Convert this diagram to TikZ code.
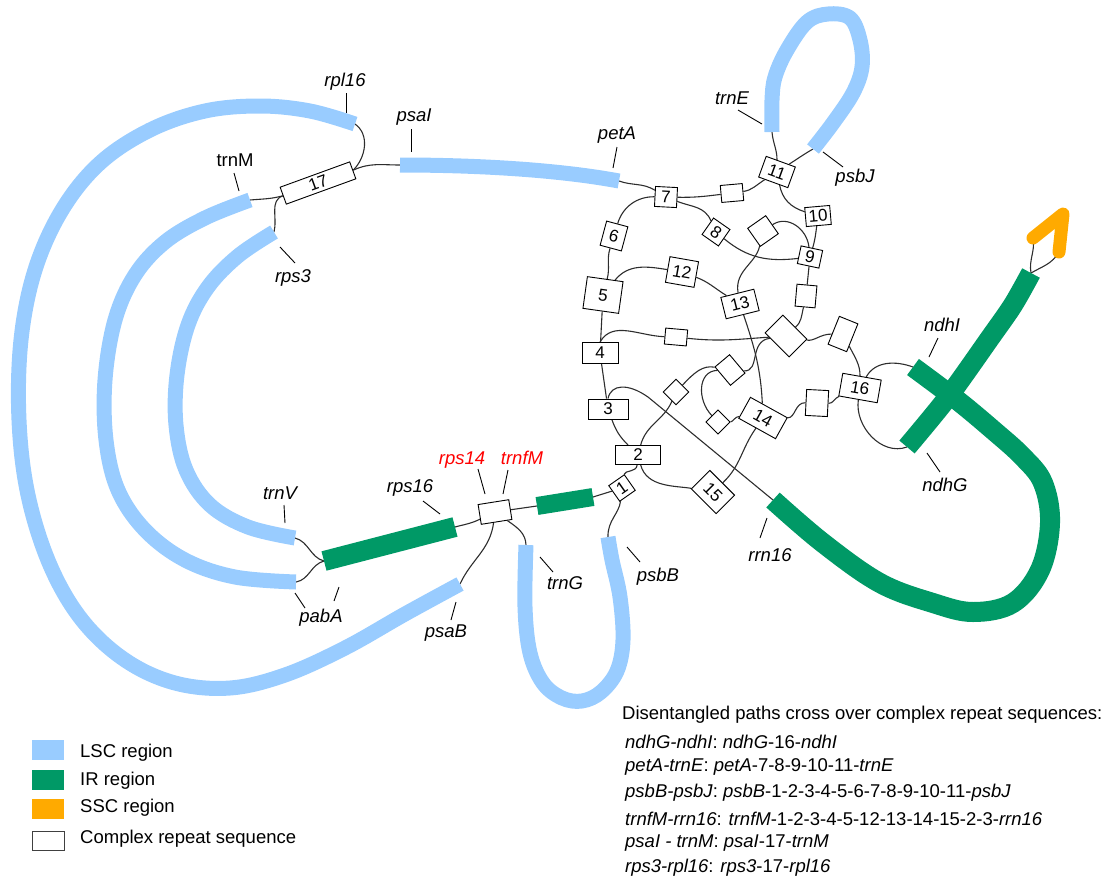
\documentclass[tikz,border=0pt]{standalone}
\usepackage{fontspec}
\setmainfont{Liberation Sans}
\definecolor{lsc}{RGB}{153,204,255}
\definecolor{irg}{RGB}{0,153,102}
\definecolor{ssc}{RGB}{255,170,0}
\definecolor{wire}{RGB}{45,45,45}
\pgfdeclarelayer{bg}
\pgfsetlayers{bg,main}
\tikzset{
  lscbar/.style={draw=lsc, line width=15pt},
  irbar/.style={draw=irg, line width=20pt},
  sscbar/.style={draw=ssc, line width=13pt, line cap=round, line join=round},
  con/.style={draw=wire, line width=1.1pt},
  lead/.style={draw=black, line width=0.9pt},
  rep/.style={draw=black, line width=0.9pt, fill=white, inner sep=0pt,
    font=\fontsize{17}{17}\selectfont},
  gene/.style={font=\fontsize{18.5}{20}\selectfont\itshape, inner sep=0pt},
  plain/.style={font=\fontsize{18.5}{20}\selectfont, inner sep=0pt},
  legbox/.style={minimum width=32pt, minimum height=20pt, inner sep=0pt},
}
\begin{document}
\begin{tikzpicture}[x=1pt,y=-1pt]
\useasboundingbox (0,0) rectangle (1112,879);

% ---------- ends of the region bars ----------
\coordinate (rpl16e) at (355,124);
\coordinate (trnMe) at (250,200);
\coordinate (rps3e) at (274,232);
\coordinate (psaIs) at (400,165);
\coordinate (petAe) at (619,181);
\coordinate (trnEe) at (772,132);
\coordinate (psbJe) at (813,149);
\coordinate (trnVe) at (295,538);
\coordinate (pabAe) at (296,582);
\coordinate (psaBe) at (460,584);
\coordinate (rps16l) at (324,561);
\coordinate (rps16r) at (455,527);
\coordinate (irSl) at (537,506);
\coordinate (irSr) at (593,497);
\coordinate (trnGe) at (526,545);
\coordinate (psbBe) at (608,537);
\coordinate (rrnS) at (773,500);
\coordinate (ndhIe) at (913,367);
\coordinate (ndhGe) at (907,447);
\coordinate (irTop) at (1031,273);
\coordinate (sscL) at (1033,238);
\coordinate (sscR) at (1059,252);

% ---------- complex repeat sequences ----------
\node[rep, minimum width=74pt, minimum height=18pt, rotate=20] (b17) at (318,183) {17};
\node[rep, minimum width=31pt, minimum height=22pt, rotate=-20] (b11) at (777,172) {11};
\node[rep, minimum width=22pt, minimum height=17pt, rotate=5] (bA) at (732,193) {};
\node[rep, minimum width=22pt, minimum height=20pt, rotate=-3] (b7) at (666,197) {7};
\node[rep, minimum width=25pt, minimum height=19pt, rotate=5] (b10) at (818,216) {10};
\node[rep, minimum width=20pt, minimum height=20pt, rotate=-35] (b8) at (716,232) {8};
\node[rep, minimum width=22pt, minimum height=25pt, rotate=-15] (b6) at (614,236) {6};
\node[rep, minimum width=22pt, minimum height=22pt, rotate=35] (bB) at (763,231) {};
\node[rep, minimum width=22pt, minimum height=18pt, rotate=-12] (b9) at (810,257) {9};
\node[rep, minimum width=29pt, minimum height=26pt, rotate=-10] (b12) at (682,272) {12};
\node[rep, minimum width=36pt, minimum height=32pt, rotate=-8] (b5) at (603,295) {5};
\node[rep, minimum width=34pt, minimum height=22pt, rotate=14] (b13) at (740,304) {13};
\node[rep, minimum width=20pt, minimum height=22pt, rotate=-5] (bC) at (806,296) {};
\node[rep, minimum width=22pt, minimum height=16pt, rotate=-5] (bD) at (676,337) {};
\node[rep, minimum width=34pt, minimum height=25pt, rotate=-45] (bE) at (786,336) {};
\node[rep, minimum width=20pt, minimum height=30pt, rotate=-22] (bF) at (843,334) {};
\node[rep, minimum width=36pt, minimum height=21pt] (b4) at (600,353) {4};
\node[rep, minimum width=39pt, minimum height=23pt, rotate=-10] (b16) at (860,388) {16};
\node[rep, minimum width=24pt, minimum height=19pt, rotate=-50] (bG) at (730,370) {};
\node[rep, minimum width=18pt, minimum height=18pt, rotate=45] (bH) at (676,392) {};
\node[rep, minimum width=40pt, minimum height=20pt] (b3) at (608,409) {3};
\node[rep, minimum width=17pt, minimum height=17pt, rotate=45] (bI) at (718,422) {};
\node[rep, minimum width=42pt, minimum height=24pt, rotate=-29] (b14) at (763,418) {14};
\node[rep, minimum width=22pt, minimum height=26pt, rotate=-3] (bJ) at (817,403) {};
\node[rep, minimum width=45pt, minimum height=19pt] (b2) at (638,455) {2};
\node[rep, minimum width=19pt, minimum height=19pt, rotate=35] (b1) at (622,488) {1};
\node[rep, minimum width=35pt, minimum height=26pt, rotate=-45] (b15) at (713,492) {15};
\node[rep, minimum width=31pt, minimum height=20pt, rotate=9] (bK) at (495,512) {};

% ---------- thin connections ----------
\begin{pgfonlayer}{bg}
\draw[con] (trnMe) to[out=5,in=195] (b17.west);
\draw[con] (rps3e) to[out=75,in=200] (b17.west);
\draw[con] (b17.east) to[out=45,in=-35] (rpl16e);
\draw[con] (b17.east) to[out=25,in=180] (psaIs);
\draw[con] (petAe) to[out=-20,in=150] (b7);
\draw[con] (b7) to[out=180,in=80] (b6);
\draw[con] (b7) to[out=0,in=185] (bA);
\draw[con] (bA) to[out=5,in=225] (b11);
\draw[con] (b7) to[out=-20,in=130] (b8);
\draw[con] (b11) to[out=-70,in=160] (b10);
\draw[con] (b10) to[out=-100,in=80] (b9);
\draw[con] (b8) to[out=-30,in=190] (b9);
\draw[con] (bB) to[out=20,in=100] (b9);
\draw[con] (bB) to[out=-115,in=95] (b13);
\draw[con] (b9) -- (bC);
\draw[con] (bC) to[out=-100,in=70] (bE);
\draw[con] (b12) to[out=-15,in=140] (b13);
\draw[con] (b5) to[out=55,in=175] (b12);
\draw[con] (b5) to[out=80,in=-100] (b6);
\draw[con] (b5) -- (b4);
\draw[con] (b4.north) to[out=60,in=180] (bD);
\draw[con] (bD) to[out=-5,in=200] (bE);
\draw[con] (b13) to[out=-75,in=100] (b14);
\draw[con] (bE) to[out=210,in=15] (bG);
\draw[con] (bG) to[out=190,in=30] (bH);
\draw[con] (bH) to[out=-130,in=75] (b2);
\draw[con] (bG) to[out=200,in=120] (bI);
\draw[con] (bI) to[out=-30,in=200] (b14);
\draw[con] (b14) to[out=20,in=180] (bJ);
\draw[con] (bJ) to[out=0,in=210] (b16);
\draw[con] (b14) to[out=-115,in=60] (b15);
\draw[con] (b15) to[out=190,in=-75] (b2);
\draw[con] (b2) to[out=-95,in=60] (b1);
\draw[con] (b3) to[out=-70,in=135] (b2);
\draw[con] (b3) -- (b4);
\draw[con] (b3.north) .. controls (611,384) and (628,383) .. (648,397) -- (rrnS);
\draw[con] (irSr) -- (b1);
\draw[con] (b1) to[out=-110,in=92] (psbBe);
\draw[con] (bK) -- (irSl);
\draw[con] (rps16r) to[out=15,in=200] (bK);
\draw[con] (psaBe) to[out=65,in=-100] (bK);
\draw[con] (bK) to[out=-40,in=92] (trnGe);
\draw[con] (trnVe) to[out=-15,in=165] (rps16l);
\draw[con] (pabAe) to[out=10,in=195] (rps16l);
\draw[con] (b11) to[out=100,in=-85] (trnEe);
\draw[con] (b11) to[out=45,in=210] (psbJe);
\draw[con] (bE) to[out=15,in=190] (bF);
\draw[con] (bF) to[out=-50,in=95] (b16);
\draw[con] (b16) to[out=65,in=160] (ndhIe);
\draw[con] (b16) to[out=-95,in=200] (ndhGe);
\draw[con] (irTop) to[out=100,in=-80] (sscL);
\draw[con] (sscR) to[out=-120,in=30] (irTop);
\end{pgfonlayer}

% ---------- LSC bars ----------
\draw[lscbar] plot[smooth, tension=0.6] coordinates {(460,584) (405,614) (345,648) (285,675) (230,688) (175,683) (125,660) (82,620) (50,565) (28,495) (19,420) (21,340) (35,270) (62,210) (100,163) (150,130) (205,111) (260,106) (310,111) (355,124)};
\draw[lscbar] plot[smooth, tension=0.6] coordinates {(250,200) (205,218) (165,242) (135,275) (115,320) (105,380) (106,440) (118,490) (145,530) (185,560) (235,577) (296,582)};
\draw[lscbar] plot[smooth, tension=0.6] coordinates {(274,232) (238,256) (208,287) (188,325) (177,375) (176,425) (186,470) (210,505) (248,527) (295,538)};
\draw[lscbar] (psaIs) .. controls (480,165) and (560,170) .. (petAe);
\draw[lscbar] plot[smooth, tension=0.6] coordinates {(772,132) (772,100) (775,77) (787,50) (807,22) (828,14) (850,18) (860,40) (862,67) (853,93) (833,123) (813,149)};
\draw[lscbar] plot[smooth, tension=0.6] coordinates {(526,545) (525,607) (530,653) (543,683) (562,698) (582,701) (601,692) (617,671) (623,640) (620,597) (612,560) (608,537)};

% ---------- IR bars ----------
\draw[irbar] (rps16l) -- (rps16r);
\draw[irbar, line width=18pt] (irSl) -- (irSr);
\draw[irbar] plot[smooth, tension=0.6] coordinates {(773,500) (823,543) (880,583) (933,603) (973,612) (1013,603) (1040,570) (1050,523) (1043,483) (1023,457) (993,430) (957,400) (913,367)};
\draw[irbar] plot[smooth, tension=0.5] coordinates {(907,447) (948,397) (990,338) (1013,305) (1031,273)};

% ---------- SSC ----------
\draw[sscbar] (sscL) -- (1063,214) -- (sscR);

% ---------- gene labels ----------
\node[gene] (lrpl16) at (345,82) {rpl16};
\draw[lead] (346,93) -- (346,113);
\node[gene] (lpsaI) at (414,117) {psaI};
\draw[lead] (411,129) -- (411,152);
\node[gene] (lpetA) at (617,135) {petA};
\draw[lead] (617,147) -- (613,168);
\node[plain] (ltrnM) at (235,160) {trnM};
\draw[lead] (234,173) -- (239,191);
\node[gene] (lrps3) at (293,278) {rps3};
\draw[lead] (280,247) -- (295,263);
\node[gene] (ltrnE) at (732,98) {trnE};
\draw[lead] (738,110) -- (762,124);
\node[gene] (lpsbJ) at (855,178) {psbJ};
\draw[lead] (823,152) -- (843,167);
\node[gene] (ltrnV) at (280,493) {trnV};
\draw[lead] (284,505) -- (285,523);
\node[gene] (lrps16) at (410,488) {rps16};
\draw[lead] (423,501) -- (440,514);
\node[gene, text=red] (lrps14) at (462,460) {rps14};
\draw[lead] (478,469) -- (485,494);
\node[gene, text=red] (ltrnfM) at (522,458) {trnfM};
\draw[lead] (508,470) -- (503,494);
\node[gene] (lpabA) at (321,618) {pabA};
\draw[lead] (295,593) -- (305,608);
\draw[lead] (339,587) -- (334,601);
\node[gene] (lpsaB) at (446,633) {psaB};
\draw[lead] (456,602) -- (451,620);
\node[gene] (ltrnG) at (565,583) {trnG};
\draw[lead] (540,557) -- (553,572);
\node[gene] (lpsbB) at (658,577) {psbB};
\draw[lead] (627,547) -- (640,562);
\node[gene] (lrrn16) at (770,555) {rrn16};
\draw[lead] (767,518) -- (760,538);
\node[gene] (lndhI) at (942,325) {ndhI};
\draw[lead] (938,338) -- (929,357);
\node[gene] (lndhG) at (945,485) {ndhG};
\draw[lead] (927,453) -- (940,472);

% ---------- legend ----------
\node[legbox, fill=lsc] (kLSC) at (48,750) {};
\node[plain, anchor=west] at (80,753) {LSC region};
\node[legbox, fill=irg] (kIR) at (48,780) {};
\node[plain, anchor=west] at (80,781) {IR region};
\node[legbox, fill=ssc] (kSSC) at (48,809) {};
\node[plain, anchor=west] at (80,808) {SSC region};
\node[legbox, draw=black!75, line width=0.9pt, fill=white, minimum height=19pt] (kCR) at (48,840.5) {};
\node[plain, anchor=west] at (80,839) {Complex repeat sequence};

% ---------- path list ----------
\node[plain, anchor=west] at (622,715) {Disentangled paths cross over complex repeat sequences:};
\node[plain, anchor=west] at (625,742) {\textit{ndhG-ndhI}: \textit{ndhG}-16-\textit{ndhI}};
\node[plain, anchor=west] at (625,767) {\textit{petA-trnE}: \textit{petA}-7-8-9-10-11-\textit{trnE}};
\node[plain, anchor=west] at (625,793) {\textit{psbB-psbJ}: \textit{psbB}-1-2-3-4-5-6-7-8-9-10-11-\textit{psbJ}};
\node[plain, anchor=west] at (625,819) {\textit{trnfM-rrn16}: \textit{trnfM}-1-2-3-4-5-12-13-14-15-2-3-\textit{rrn16}};
\node[plain, anchor=west] at (625,843) {\textit{psaI - trnM}: \textit{psaI}-17-\textit{trnM}};
\node[plain, anchor=west] at (625,868) {\textit{rps3-rpl16}: \textit{rps3}-17-\textit{rpl16}};
\end{tikzpicture}
\end{document}
